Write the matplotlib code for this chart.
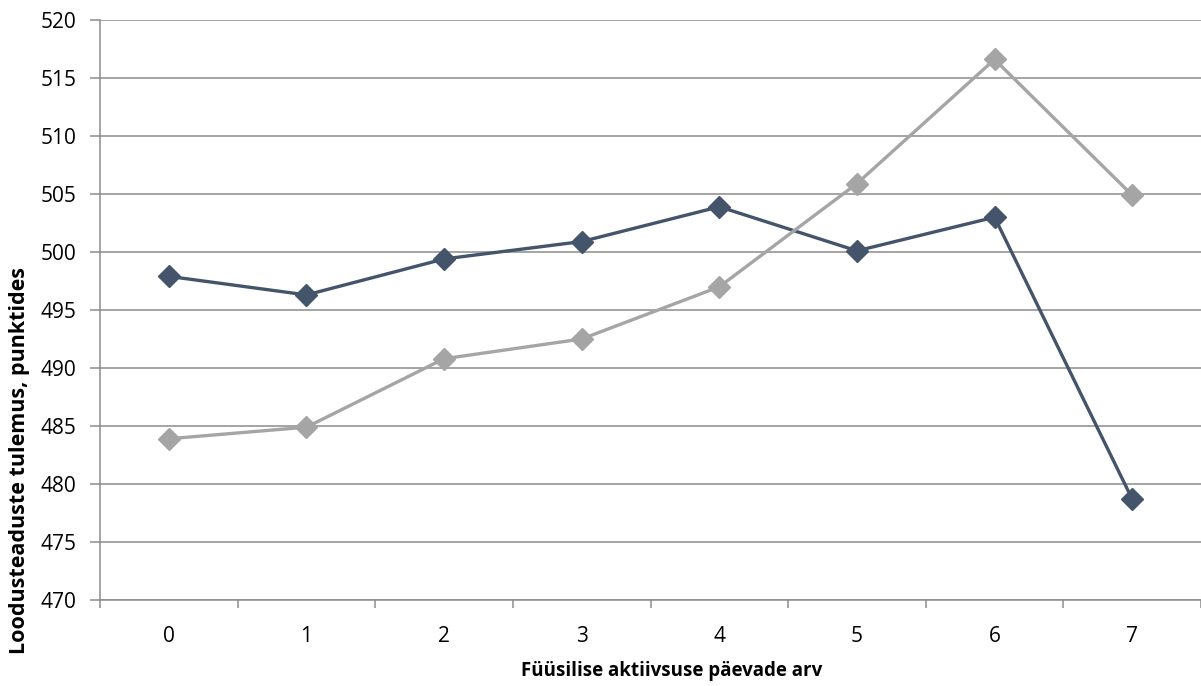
import matplotlib
matplotlib.use("Agg")
import matplotlib.pyplot as plt
import numpy as np

days = [0, 1, 2, 3, 4, 5, 6, 7]
series_dark = [497.9, 496.3, 499.4, 500.9, 503.9, 500.1, 503.0, 478.7]
series_gray = [483.9, 484.9, 490.8, 492.5, 497.0, 505.9, 516.6, 504.9]
yticks = list(range(470, 521, 5))

plt.rcParams['font.family'] = ['Open Sans', 'DejaVu Sans']

fig = plt.figure(figsize=(12.01, 6.86), dpi=100)
ax = fig.add_axes([100/1201, 1 - 600/686, 1 - 100/1201, 580/686])

x = np.arange(len(days))
ax.plot(x, series_dark, color='#44546A', lw=2.4, marker='D', ms=11, zorder=3)
ax.plot(x, series_gray, color='#A5A5A5', lw=2.4, marker='D', ms=11, zorder=3)

ax.set_xlim(-0.5, len(days) - 0.5)
ax.set_ylim(470, 520)
ax.set_yticks(yticks)
ax.set_yticklabels([str(v) for v in yticks], fontsize=15)
ax.yaxis.grid(True, color='#8C8C8C', lw=1.1)
ax.set_axisbelow(True)

# category labels sit between the tick marks
ax.set_xticks(np.arange(-0.5, len(days)), minor=False)
ax.set_xticklabels([])
ax.set_xticks(x, minor=True)
ax.set_xticklabels([str(d) for d in days], minor=True, fontsize=15)
ax.tick_params(axis='x', which='minor', length=0, pad=19)
ax.tick_params(axis='x', which='major', length=6, color='#8C8C8C', width=1.1)
ax.tick_params(axis='y', length=7, color='#8C8C8C', width=1.1, pad=10)

for side in ['top', 'right']:
    ax.spines[side].set_visible(False)
for side in ['left', 'bottom']:
    ax.spines[side].set_color('#8C8C8C')
    ax.spines[side].set_linewidth(1.1)

ax.set_xlabel('Füüsilise aktiivsuse päevade arv', fontsize=13.5, fontweight='bold')
ax.xaxis.set_label_coords(0.519, -0.106)
ax.set_ylabel('Loodusteaduste tulemus, punktides', fontsize=15.5, fontweight='bold')
ax.yaxis.set_label_coords(-0.064, 0.24)

fig.savefig('out.png', dpi=100)
